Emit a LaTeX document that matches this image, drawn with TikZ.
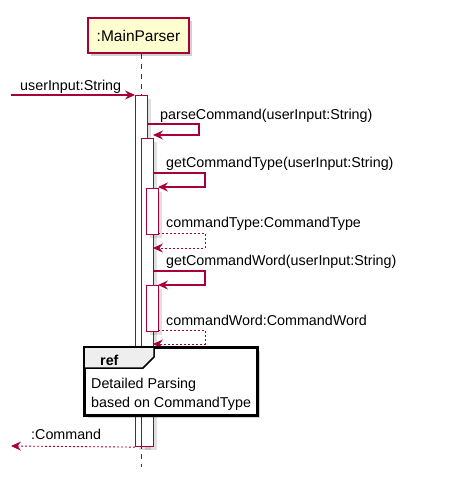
\documentclass[tikz,border=0pt]{standalone}
\usepackage{fontspec}
\setmainfont{Liberation Sans}
\usetikzlibrary{arrows.meta,shadows}
\definecolor{pu}{HTML}{A80036}
\definecolor{pfill}{HTML}{FEFECE}
\definecolor{tabfill}{HTML}{EEEEEE}
\tikzset{
  shd/.style={drop shadow={shadow xshift=3pt,shadow yshift=-3pt,fill=black,opacity=0.18}},
  lshd/.style={drop shadow={shadow xshift=3pt,shadow yshift=-3pt,fill=black,opacity=0.12}},
  msg/.style={draw=pu, line width=1.2pt, -{Stealth[length=10pt,width=9pt,inset=3.5pt]}},
  ret/.style={msg, line width=0.9pt, dash pattern=on 2pt off 2pt},
  actbox/.style={draw=pu, fill=white, line width=1.1pt, rectangle, inner sep=0pt, anchor=north west, minimum width=12pt, lshd},
  lbl/.style={anchor=base west, inner sep=0pt, font=\fontsize{14.3}{16}\selectfont},
  partbox/.style={draw=pu, fill=pfill, line width=1.5pt, rectangle, inner sep=0pt, minimum width=101pt, minimum height=35pt, font=\fontsize{15.5}{18}\selectfont, shd},
  lifeline/.style={draw=pu, line width=0.9pt, dash pattern=on 5pt off 5pt},
  refbox/.style={draw=black, fill=white, line width=2pt, rectangle, inner sep=0pt, anchor=north west, minimum width=172pt, minimum height=67pt, shd},
}
\begin{document}
\begin{tikzpicture}[x=1pt,y=-1pt]
\useasboundingbox (0,0) rectangle (453,491);
\fill[white] (0,0) rectangle (453,491);
% participant and lifeline
\node[partbox] (mp) at (138.5,35.5) {:MainParser};
\coordinate (llend) at (141,467);
\draw[lifeline] (mp.south -| llend) -- (llend);
% activations
\node[actbox, minimum height=351pt] (a1) at (135,95) {};
\node[actbox, minimum height=308pt] (a2) at (141,138) {};
\node[actbox, minimum height=46pt] (a3) at (146,188) {};
\node[actbox, minimum height=46pt] (a4) at (146,285) {};
% incoming message
\coordinate (inS) at (11,95);
\draw[msg] (inS) -- (a1.north west);
\node[lbl] (l0) at (20,90) {userInput:String};
% parseCommand
\coordinate (m1s) at (147,124);
\coordinate (m1e) at (153,135);
\draw[msg] (m1s) -- ++(52,0) -- ++(0,11) -- (m1e);
\node[lbl] (l1) at (160,119) {parseCommand(userInput:String)};
% getCommandType
\coordinate (m2s) at (153,173);
\coordinate (m2e) at (158,187);
\draw[msg] (m2s) -- ++(52,0) -- ++(0,14) -- (m2e);
\node[lbl] (l2) at (166,167) {getCommandType(userInput:String)};
% commandType return
\coordinate (r2s) at (158,233);
\coordinate (r2e) at (153,248);
\draw[ret] (r2s) -- ++(47,0) -- ++(0,15) -- (r2e);
\node[lbl] (l3) at (166,227) {commandType:CommandType};
% getCommandWord
\coordinate (m3s) at (153,271);
\coordinate (m3e) at (158,285);
\draw[msg] (m3s) -- ++(52,0) -- ++(0,14) -- (m3e);
\node[lbl] (l4) at (166,265) {getCommandWord(userInput:String)};
% commandWord return
\coordinate (r3s) at (158,330);
\coordinate (r3e) at (153,344);
\draw[ret] (r3s) -- ++(47,0) -- ++(0,14) -- (r3e);
\node[lbl] (l5) at (166,325) {commandWord:CommandWord};
% ref box
\node[refbox] (ref) at (84,347) {};
\fill[tabfill] (ref.north west) -- (154,347) -- (154,357) -- (143,368) -- (84,368) -- cycle;
\draw[black, line width=1.5pt] (ref.north west |- 0,368) -- (143,368) -- (154,357) -- (154,347);
\draw[black, line width=2pt] (ref.north west) rectangle (ref.south east);
\node[lbl, font=\fontsize{14.3}{16}\selectfont\bfseries] (reft) at (100,365) {ref};
\node[lbl] (ref1) at (91,388) {Detailed Parsing};
\node[lbl] (ref2) at (91,407) {based on CommandType};
% return Command
\coordinate (outE) at (11,446);
\draw[ret] (a1.south west) -- (outE);
\node[lbl] (l6) at (31,439) {:Command};
\end{tikzpicture}
\end{document}
